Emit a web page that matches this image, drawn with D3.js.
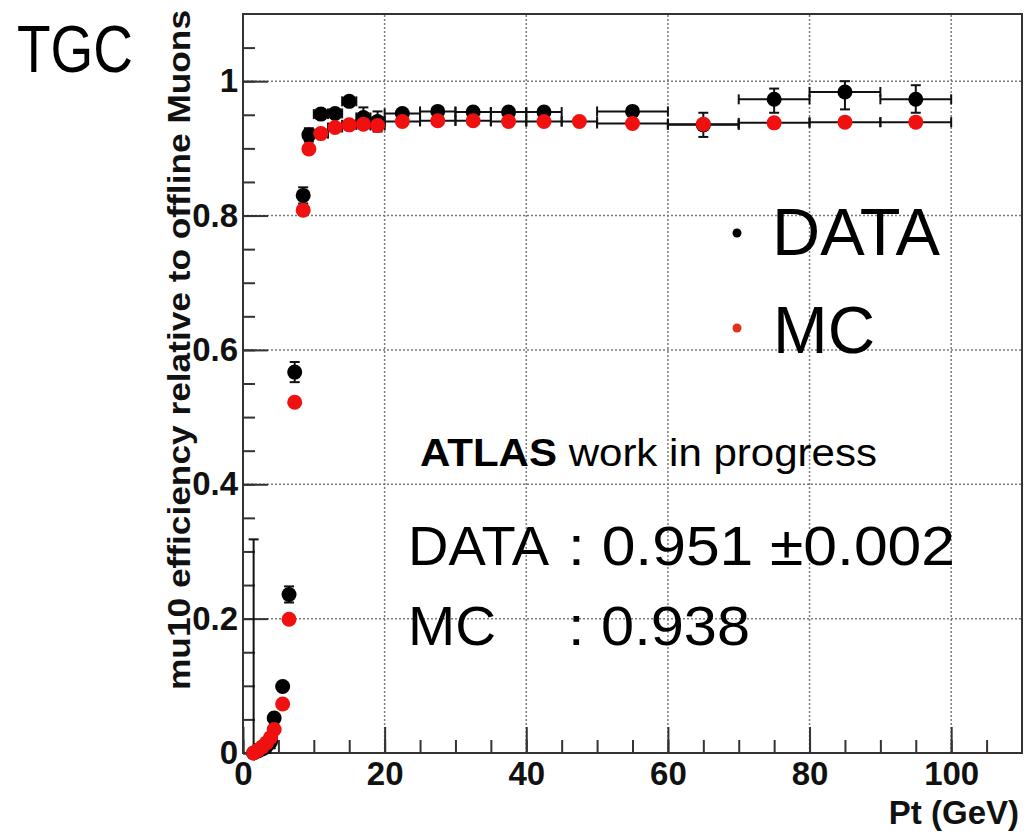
<!DOCTYPE html>
<html>
<head>
<meta charset="utf-8">
<script src="https://cdn.jsdelivr.net/npm/d3@7"></script>
<style>
  body { margin: 0; background: #fff; }
  svg { display: block; font-family: "Liberation Sans", Arial, Helvetica, sans-serif; }
  .grid { stroke: #7a7a7a; stroke-width: 1.5; stroke-dasharray: 2,2; fill: none; }
  .axis path { display: none; }
  .axis line { stroke: #333; stroke-width: 2; }
  .axis text { font-size: 33px; font-weight: bold; fill: #111; }
  .err { stroke: #111; stroke-width: 2; fill: none; }
</style>
</head>
<body>
<script>
//bin centres (GeV)
var ptCenters = [1.5, 2.1, 2.7, 3.3, 3.9, 4.4, 5.6, 6.5, 7.3, 8.5, 9.3,
    11, 13, 15, 17, 19, 22.5, 27.5, 32.5, 37.5, 42.5, 47.5, 55, 65, 75, 85, 95];
//bin half widths (GeV)
var ptHalfWidth = [0.3, 0.3, 0.3, 0.3, 0.3, 0.3, 0.5, 0.5, 0.5, 0.5, 0.5,
    1, 1, 1, 1, 1, 2.5, 2.5, 2.5, 2.5, 2.5, 2.5, 5, 5, 5, 5, 5];
//DATA efficiency (null = no point)
var dataEff = [0.0, 0.003, 0.006, 0.01, 0.017, 0.052, 0.099, 0.236, 0.567, 0.83, 0.92,
    0.951, 0.952, 0.970, 0.946, 0.94, 0.952, 0.955, 0.954, 0.954, 0.954, null, 0.955, 0.935, 0.973, 0.984, 0.973];
var dataErrUp = [0.318, 0.01, 0.01, 0.01, 0.01, 0.008, 0.008, 0.012, 0.015, 0.012, 0.01,
    0.006, 0.006, 0.006, 0.015, 0.015, 0.005, 0.005, 0.005, 0.005, 0.005, 0, 0.006, 0.018, 0.016, 0.016, 0.021];
var dataErrDown = [0.0, 0.003, 0.006, 0.01, 0.01, 0.008, 0.008, 0.012, 0.015, 0.012, 0.01,
    0.006, 0.006, 0.006, 0.015, 0.015, 0.005, 0.005, 0.005, 0.005, 0.005, 0, 0.006, 0.018, 0.02, 0.026, 0.02];
//MC efficiency
var mcEff = [0.0, 0.004, 0.009, 0.015, 0.023, 0.035, 0.073, 0.199, 0.522, 0.808, 0.899,
    0.922, 0.931, 0.935, 0.936, 0.934, 0.940, 0.941, 0.941, 0.940, 0.940, 0.940, 0.937, 0.936, 0.938, 0.939, 0.939];

//axis ticks
var xMajorTicks = [0, 20, 40, 60, 80, 100];
var yMajorTicks = [0, 0.2, 0.4, 0.6, 0.8, 1];
var xGrid = [20, 40, 60, 80, 100];
var yGrid = [0.2, 0.4, 0.6, 0.8, 1];

drawChart();

function drawChart(){

    var width = 1025,
        height = 833;

    var svg = d3.select("body")
        .append("svg")
        .attr("width", width)
        .attr("height", height);

    //plot frame in pixels
    var frameL = 243, frameR = 1022, frameT = 14, frameB = 753;

    var x = d3.scaleLinear().domain([0, 110]).range([frameL, frameR]);
    var y = d3.scaleLinear().domain([0, 1.1]).range([frameB, frameT]);

    //grid lines
    svg.selectAll(".gx").data(xGrid).enter().append("line")
        .attr("class", "grid")
        .attr("x1", function(d){ return x(d); }).attr("x2", function(d){ return x(d); })
        .attr("y1", y(0)).attr("y2", y(1.1));
    svg.selectAll(".gy").data(yGrid).enter().append("line")
        .attr("class", "grid")
        .attr("y1", function(d){ return y(d); }).attr("y2", function(d){ return y(d); })
        .attr("x1", x(0)).attr("x2", x(110));

    //minor ticks, pointing inwards
    svg.append("g").attr("class", "axis")
        .attr("transform", "translate(0," + frameB + ")")
        .call(d3.axisBottom(x).tickValues(d3.range(0, 110, 5)).tickSize(-13).tickFormat(""));
    svg.append("g").attr("class", "axis")
        .attr("transform", "translate(" + frameL + ",0)")
        .call(d3.axisLeft(y).tickValues(d3.range(0, 1.1, 0.05)).tickSize(-12).tickFormat(""));

    //major ticks with labels
    svg.append("g").attr("class", "axis")
        .attr("transform", "translate(0," + frameB + ")")
        .call(d3.axisBottom(x).tickValues(xMajorTicks).tickSize(-26).tickPadding(9).tickFormat(d3.format("d")));
    svg.append("g").attr("class", "axis")
        .attr("transform", "translate(" + frameL + ",0)")
        .call(d3.axisLeft(y).tickValues(yMajorTicks).tickSize(-25).tickPadding(5)
            .tickFormat(function(d){ return d === 0 ? "0" : d === 1 ? "1" : d3.format(".1f")(d); }));

    //frame
    svg.append("rect")
        .attr("x", frameL).attr("y", frameT)
        .attr("width", frameR - frameL).attr("height", frameB - frameT)
        .attr("fill", "none").attr("stroke", "#333").attr("stroke-width", 2);

    //build point tables
    var dataPts = [], mcPts = [];
    ptCenters.forEach(function(p, i){
        if (dataEff[i] !== null) {
            dataPts.push({pt: p, hw: ptHalfWidth[i], v: dataEff[i], up: dataErrUp[i], dn: dataErrDown[i]});
        }
        mcPts.push({pt: p, hw: ptHalfWidth[i], v: mcEff[i], up: 0.002, dn: 0.002});
    });

    //error bars with small end caps
    function drawErrors(pts, cls){
        var g = svg.append("g").attr("class", cls);
        pts.forEach(function(d){
            var cx = x(d.pt), cy = y(d.v);
            var x0 = x(d.pt - d.hw), x1 = x(d.pt + d.hw);
            var yt = y(d.v + d.up), yb = y(d.v - d.dn);
            g.append("line").attr("class", "err").attr("x1", x0).attr("x2", x1).attr("y1", cy).attr("y2", cy);
            if (x1 - x0 > 14) {
                g.append("line").attr("class", "err").attr("x1", x0).attr("x2", x0).attr("y1", cy - 5).attr("y2", cy + 5);
                g.append("line").attr("class", "err").attr("x1", x1).attr("x2", x1).attr("y1", cy - 5).attr("y2", cy + 5);
            }
            g.append("line").attr("class", "err").attr("x1", cx).attr("x2", cx).attr("y1", yt).attr("y2", yb);
            if (cy - yt > 6) {
                g.append("line").attr("class", "err").attr("x1", cx - 5).attr("x2", cx + 5).attr("y1", yt).attr("y2", yt);
            }
            if (yb - cy > 6) {
                g.append("line").attr("class", "err").attr("x1", cx - 5).attr("x2", cx + 5).attr("y1", yb).attr("y2", yb);
            }
        });
    }

    drawErrors(dataPts, "dataErr");
    svg.selectAll(".dataPt").data(dataPts).enter().append("circle")
        .attr("class", "dataPt")
        .attr("cx", function(d){ return x(d.pt); })
        .attr("cy", function(d){ return y(d.v); })
        .attr("r", 7.5).attr("fill", "#000");

    drawErrors(mcPts, "mcErr");
    svg.selectAll(".mcPt").data(mcPts).enter().append("circle")
        .attr("class", "mcPt")
        .attr("cx", function(d){ return x(d.pt); })
        .attr("cy", function(d){ return y(d.v); })
        .attr("r", 7.5).attr("fill", "#f01010");

    //axis titles
    svg.append("text")
        .attr("x", 1019).attr("y", 824)
        .attr("text-anchor", "end")
        .attr("font-size", 33).attr("font-weight", "bold").attr("fill", "#111")
        .text("Pt (GeV)");

    svg.append("text")
        .attr("transform", "translate(190,690) rotate(-90)")
        .attr("font-size", 32).attr("font-weight", "bold").attr("fill", "#111")
        .attr("textLength", 680).attr("lengthAdjust", "spacingAndGlyphs")
        .text("mu10 efficiency relative to offline Muons");

    //big label
    svg.append("text")
        .attr("x", 17).attr("y", 72)
        .attr("font-size", 67)
        .attr("textLength", 116).attr("lengthAdjust", "spacingAndGlyphs")
        .text("TGC");

    //legend
    svg.append("circle").attr("cx", 737).attr("cy", 233).attr("r", 4.5).attr("fill", "#000");
    svg.append("text").attr("x", 772).attr("y", 255).attr("font-size", 66)
        .attr("textLength", 168).attr("lengthAdjust", "spacingAndGlyphs").text("DATA");
    svg.append("circle").attr("cx", 737).attr("cy", 328).attr("r", 4.5).attr("fill", "#e2301e");
    svg.append("text").attr("x", 773).attr("y", 353).attr("font-size", 66)
        .attr("textLength", 102).attr("lengthAdjust", "spacingAndGlyphs").text("MC");

    //annotation
    var atlas = svg.append("text").attr("x", 420).attr("y", 466).attr("font-size", 39)
        .attr("textLength", 457).attr("lengthAdjust", "spacingAndGlyphs");
    atlas.append("tspan").attr("font-weight", "bold").text("ATLAS");
    atlas.append("tspan").text(" work in progress");

    svg.append("text").attr("x", 408).attr("y", 565).attr("font-size", 56)
        .attr("textLength", 141).attr("lengthAdjust", "spacingAndGlyphs").text("DATA");
    svg.append("text").attr("x", 568).attr("y", 565).attr("font-size", 56)
        .attr("textLength", 387).attr("lengthAdjust", "spacingAndGlyphs").text(": 0.951 ±0.002");
    svg.append("text").attr("x", 408).attr("y", 645).attr("font-size", 56)
        .attr("textLength", 88).attr("lengthAdjust", "spacingAndGlyphs").text("MC");
    svg.append("text").attr("x", 568).attr("y", 645).attr("font-size", 56)
        .attr("textLength", 182).attr("lengthAdjust", "spacingAndGlyphs").text(": 0.938");
}
</script>
</body>
</html>
